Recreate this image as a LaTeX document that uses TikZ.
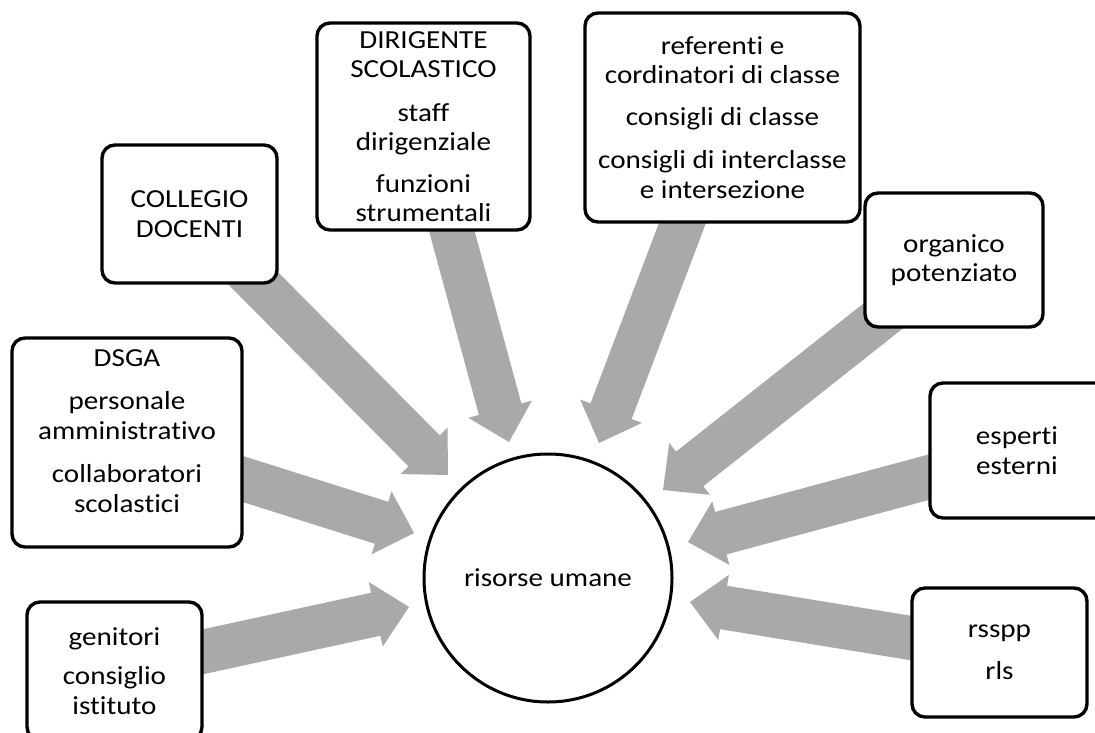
\documentclass[tikz,border=0pt]{standalone}
\usepackage{fontspec}
\setmainfont{Carlito}[FakeStretch=1.12, Ligatures={NoCommon}]
\usetikzlibrary{calc}
\pgfdeclarelayer{bg}
\pgfsetlayers{bg,main}
\definecolor{arrgray}{HTML}{A9A9A9}
\tikzset{
  box/.style={draw=black, line width=3.4pt, rounded corners=13pt, fill=white,
    align=center, inner sep=0pt, font=\fontsize{26}{29.5}\selectfont},
  hub/.style={circle, draw=black, line width=3pt, fill=white, minimum size=248pt,
    inner sep=0pt, font=\fontsize{26}{29.5}\selectfont},
  shaft/.style={draw=arrgray, line width=44pt},
  head/.style={fill=arrgray},
}
\newcommand\blockarr[2]{%
  \coordinate (b-#2) at ($(#2)!34pt!(#1.center)$);
  \coordinate (s-#2) at ($(#2)!30pt!(#1.center)$);
  \draw[shaft] (#1.center) -- (s-#2);
  \fill[head] (#2) -- ($(b-#2)!33pt!90:(#2)$) -- ($(b-#2)!33pt!-90:(#2)$) -- cycle;
}
\begin{document}
\begin{tikzpicture}[x=1pt,y=-1pt]
\useasboundingbox (0,0) rectangle (1095,733);

\node[box, minimum width=175pt, minimum height=138pt] (coll) at (189.5,214) {COLLEGIO\\DOCENTI};
\node[box, minimum width=213pt, minimum height=207pt] (dir) at (423.5,126.5)
  {DIRIGENTE\\SCOLASTICO\\[14pt]staff\\dirigenziale\\[12pt]funzioni\\strumentali};
\node[box, minimum width=275pt, minimum height=209pt] (ref) at (722.5,117.5)
  {referenti e\\cordinatori di classe\\[12pt]consigli di classe\\[14pt]consigli di interclasse\\e intersezione};
\node[box, minimum width=178pt, minimum height=134pt] (org) at (954,260) {organico\\potenziato};
\node[box, minimum width=230pt, minimum height=209pt] (dsga) at (127,442.5)
  {DSGA\\[14pt]personale\\amministrativo\\[14pt]collaboratori\\scolastici\\[-6pt]};
\node[box, minimum width=196pt, minimum height=135pt] (esp) at (1028,450.5)
  {\hspace*{-22pt}esperti\\\hspace*{-22pt}esterni};
\node[box, minimum width=175pt, minimum height=138pt] (gen) at (114.5,671)
  {genitori\\[10pt]consiglio\\istituto};
\node[box, minimum width=175pt, minimum height=129pt] (rss) at (999.5,652.5) {rsspp\\[12pt]rls};
\node[hub] (hub) at (548,578) {risorse umane};

\coordinate (t1) at (448,475);
\coordinate (t2) at (509,442);
\coordinate (t3) at (599,443);
\coordinate (t4) at (663,490);
\coordinate (t5) at (688,542);
\coordinate (t6) at (690,602);
\coordinate (t7) at (414,533);
\coordinate (t8) at (409,607);

\begin{pgfonlayer}{bg}
\fill[white] (0,0) rectangle (1095,733);
\blockarr{coll}{t1}
\blockarr{dir}{t2}
\blockarr{ref}{t3}
\blockarr{org}{t4}
\blockarr{esp}{t5}
\blockarr{rss}{t6}
\blockarr{dsga}{t7}
\blockarr{gen}{t8}
\end{pgfonlayer}
\end{tikzpicture}
\end{document}
